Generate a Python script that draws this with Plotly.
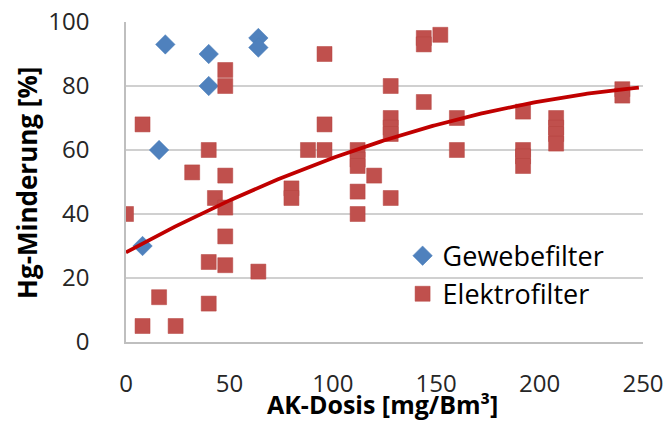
import numpy as np
import plotly.graph_objects as go

# Gewebefilter (blue diamonds)
gewebe_x = [19, 40, 64, 64, 40, 16, 8]
gewebe_y = [93, 90, 95, 92, 80, 60, 30]

# Elektrofilter (red squares)
elektro_x = [0, 8, 8, 16, 24, 32, 40, 40, 40, 43, 48, 48, 48, 48, 48, 48, 64,
             80, 80, 88, 96, 96, 96, 112, 112, 112, 112, 112, 120,
             128, 128, 128, 128, 128, 144, 144, 144, 152, 160, 160,
             192, 192, 192, 192, 208, 208, 208, 208, 240, 240]
elektro_y = [40, 68, 5, 14, 5, 53, 60, 25, 12, 45, 85, 80, 52, 42, 33, 24, 22,
             48, 45, 60, 60, 90, 68, 60, 57, 55, 47, 40, 52,
             80, 70, 67, 65, 45, 95, 93, 75, 96, 70, 60,
             72, 60, 58, 55, 70, 67, 65, 62, 79, 77]

# Polynomial trendline coefficients (c0 + c1*x + c2*x^2)
trend_coef = [28.0, 0.354, -0.00059]
trend_x_range = [0, 248]

x_ticks = [0, 50, 100, 150, 200, 250]
y_ticks = [0, 20, 40, 60, 80, 100]

x_title = "AK-Dosis [mg/Bm³]"
y_title = "Hg-Minderung [%]"

tx = np.linspace(trend_x_range[0], trend_x_range[1], 200)
ty = trend_coef[0] + trend_coef[1] * tx + trend_coef[2] * tx ** 2

FONT = "Open Sans"

fig = go.Figure()
fig.add_trace(go.Scatter(
    x=gewebe_x, y=gewebe_y, mode="markers", name="Gewebefilter",
    marker=dict(symbol="diamond", size=15, color="#4F81BD",
                line=dict(width=0.5, color="#4A7EBB")),
))
fig.add_trace(go.Scatter(
    x=elektro_x, y=elektro_y, mode="markers", name="Elektrofilter",
    marker=dict(symbol="square", size=15, color="#C0504D",
                line=dict(width=0.5, color="#B4433F")),
))
fig.add_trace(go.Scatter(
    x=tx, y=ty, mode="lines", showlegend=False, hoverinfo="skip",
    line=dict(color="#C00000", width=3.8),
))

fig.update_layout(
    width=668, height=421,
    margin=dict(l=126, r=25, t=22, b=79),
    paper_bgcolor="white", plot_bgcolor="white",
    font=dict(family=FONT, size=24, color="#262626"),
    legend=dict(x=0.535, y=0.345, xanchor="left", yanchor="top",
                bgcolor="rgba(0,0,0,0)", font=dict(size=27, color="#000000"),
                tracegroupgap=0, itemsizing="trace"),
    showlegend=True,
    annotations=[
        dict(text="<b>" + x_title + "</b>", xref="paper", yref="paper",
             x=0.497, y=-0.195, xanchor="center", yanchor="middle",
             showarrow=False, font=dict(size=25, color="#000000")),
        dict(text="<b>" + y_title + "</b>", xref="paper", yref="paper",
             x=-0.1915, y=0.497, xanchor="center", yanchor="middle",
             textangle=-90, showarrow=False, font=dict(size=26, color="#000000")),
    ],
)
fig.update_xaxes(
    range=[0, 250], tickvals=x_ticks, showgrid=False, automargin=False,
    showline=True, linecolor="#BFBFBF", linewidth=1.5,
    ticks="", ticklabelstandoff=19, zeroline=False,
)
fig.update_yaxes(
    range=[0, 100], tickvals=y_ticks, showgrid=True, automargin=False,
    gridcolor="#D0D0D0", gridwidth=1.5,
    showline=True, linecolor="#BFBFBF", linewidth=1.5,
    ticks="", ticklabelstandoff=30, zeroline=False,
)

fig.write_html("out.html", config={"displayModeBar": False},
               post_script="document.body.style.margin='0';")
